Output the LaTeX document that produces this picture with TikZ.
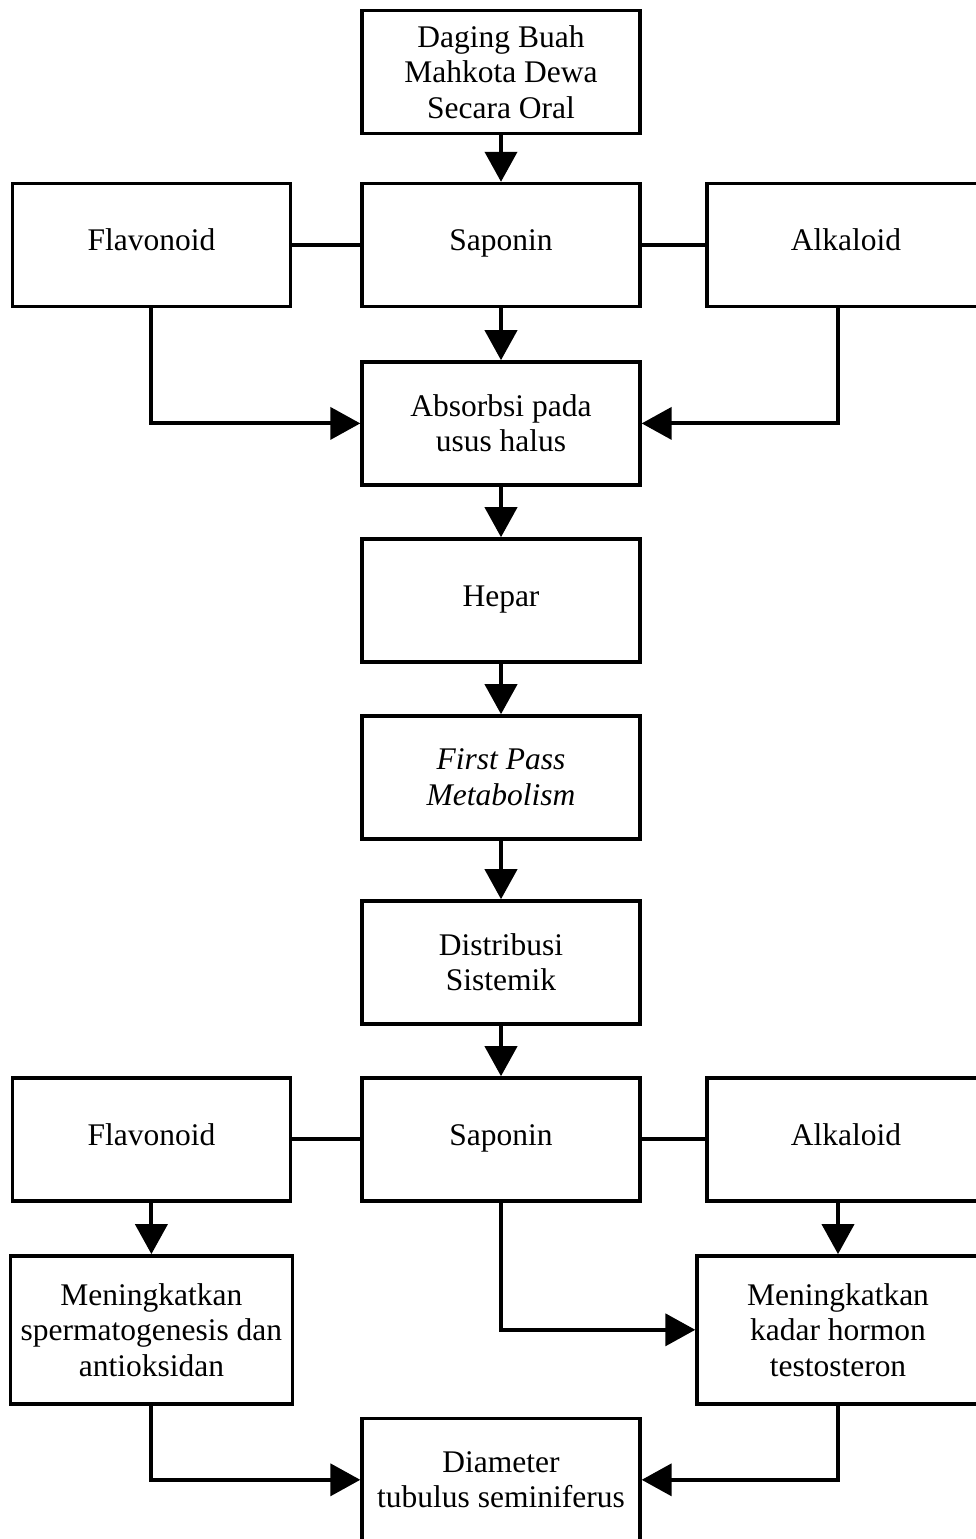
\documentclass[tikz,border=0pt]{standalone}
\usepackage{fontspec}
\setmainfont{Liberation Serif}
\usetikzlibrary{positioning, arrows.meta}

\tikzset{
	box/.style={draw, line width=2.4pt, minimum width=6.95cm, minimum height=3.075cm,
		inner sep=0pt, align=center, font=\fontsize{22.4}{25.2}\selectfont},
	oneline/.style={text height=2.05ex, text depth=0.25ex},
	widebox/.style={box, minimum width=7.05cm, minimum height=3.7cm},
	link/.style={line width=2.8pt},
	flow/.style={link, -{Triangle[length=0.75cm, width=0.8cm]}}
}

\begin{document}
\begin{tikzpicture}[node distance = 4.425cm, on grid]
			\useasboundingbox (0,0) rectangle (24.4,-38.475);

			\node[box] (0) at (12.525,-1.8) {Daging Buah\\Mahkota Dewa\\Secara Oral};
			\node[box, oneline, below=4.325cm of 0] (1) {Saponin};
			\node[box, oneline, left=8.74cm of 1] (2) {Flavonoid};
			\node[box, oneline, right=8.625cm of 1] (3) {Alkaloid};
			\node[box, below=4.46cm of 1] (4) {Absorbsi pada\\usus halus};
			\node[box, oneline, below of=4] (5) {Hepar};
			\node[box, below of=5] (6) {\itshape First Pass\\\itshape Metabolism};
			\node[box, below=4.625cm of 6] (7) {Distribusi\\Sistemik};
			\node[box, oneline, below of=7] (8) {Saponin};
			\node[box, oneline, left=8.74cm of 8] (9) {Flavonoid};
			\node[box, oneline, right=8.625cm of 8] (10) {Alkaloid};
			\node[widebox, below=4.76cm of 9] (11) {Meningkatkan\\spermatogenesis dan\\antioksidan};
			\node[widebox, below=4.76cm of 10, xshift=-0.2cm] (12) {Meningkatkan\\kadar hormon\\testosteron};
			\node[box, below=8.51cm of 8] (13) {Diameter\\tubulus seminiferus};

			\draw[link] (2) -- (1) -- (3)
			(9) -- (8) -- (10);

			\draw[flow] (0) -- (1);
			\draw[flow] (1) -- (4);
			\draw[flow] (2) |- (4);
			\draw[flow] ([xshift=-2mm]3.south) |- (4);
			\draw[flow] (4) -- (5);
			\draw[flow] (5) -- (6);
			\draw[flow] (6) -- (7);
			\draw[flow] (7) -- (8);
			\draw[flow] (9) -- (11);
			\draw[flow] (10.south -| 12) -- (12);
			\draw[flow] (8) |- (12);
			\draw[flow] (11) |- (13);
			\draw[flow] (12) |- (13);

		\end{tikzpicture}
\end{document}
